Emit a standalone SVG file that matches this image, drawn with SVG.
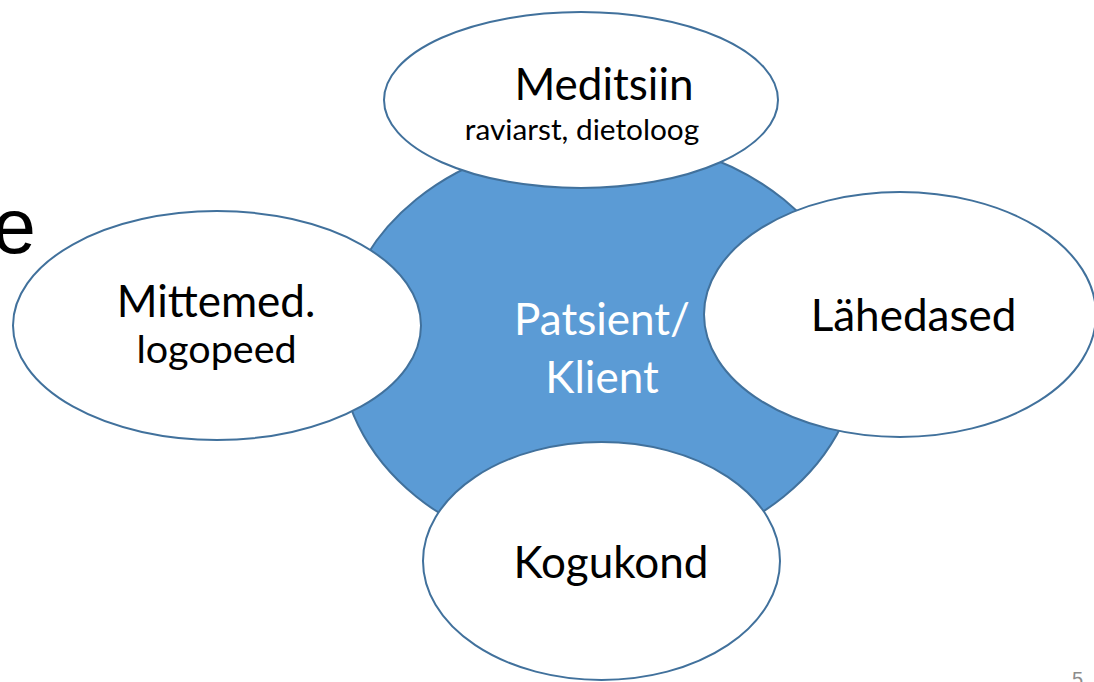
<svg xmlns="http://www.w3.org/2000/svg" width="1094" height="682" viewBox="0 0 1094 682">
<style>
.sat{fill:#ffffff;stroke:#41719c;stroke-width:2}
.hub{fill:#5b9bd5;stroke:#41719c;stroke-width:2}
.lbl{font-family:Lato,"Liberation Sans",sans-serif;text-anchor:middle;fill:#000000}
.big{font-size:44px}
.hubt{fill:#ffffff}
</style>
<rect width="1094" height="682" fill="#ffffff"/>
<text x="36" y="253" font-family="'Liberation Sans',Arial,sans-serif" font-size="78" text-anchor="end" fill="#000000">e</text>
<text x="1072" y="686" font-family="'Liberation Sans',Arial,sans-serif" font-size="20" fill="#8c8c8c">5</text>
<g id="hub">
<ellipse class="hub" cx="600" cy="348" rx="260" ry="210"/>
<text class="lbl big hubt" x="602" y="335">Patsient/</text>
<text class="lbl big hubt" x="602" y="393">Klient</text>
</g>
<g id="meditsiin">
<ellipse class="sat" cx="581" cy="100" rx="197" ry="88"/>
<text class="lbl big" x="604" y="100">Meditsiin</text>
<text class="lbl" x="582" y="140" font-size="29.8">raviarst, dietoloog</text>
</g>
<g id="mittemed">
<ellipse class="sat" cx="217" cy="325.5" rx="204" ry="114.5"/>
<text class="lbl big" x="216" y="317">Mittemed.</text>
<text class="lbl" x="216.5" y="363" font-size="39.5">logopeed</text>
</g>
<g id="lahedased">
<ellipse class="sat" cx="900" cy="314.5" rx="196" ry="122.5"/>
<text class="lbl big" x="913.5" y="331">Lähedased</text>
</g>
<g id="kogukond">
<ellipse class="sat" cx="601.5" cy="561" rx="178.5" ry="119"/>
<text class="lbl big" x="611" y="578">Kogukond</text>
</g>
</svg>
